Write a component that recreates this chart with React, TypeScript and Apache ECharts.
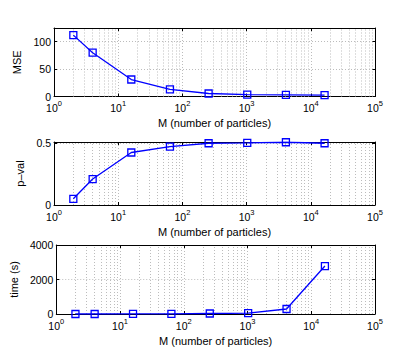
import React, { useEffect, useRef } from "react";
import * as echarts from "echarts";

const particles = [2, 4, 16, 64, 256, 1024, 4096, 16384];
const mseValues = [112, 80, 31, 13, 5.5, 3.5, 3, 2.5];
const pValues = [0.05, 0.21, 0.425, 0.473, 0.5, 0.503, 0.508, 0.5];
const timeValues = [0.2, 0.5, 2, 8, 30, 45, 290, 2780];
const minorGridX = [
  2, 3, 4, 5, 6, 7, 8, 9,
  20, 30, 40, 50, 60, 70, 80, 90,
  200, 300, 400, 500, 600, 700, 800, 900,
  2000, 3000, 4000, 5000, 6000, 7000, 8000, 9000,
  20000, 30000, 40000, 50000, 60000, 70000, 80000, 90000,
];
const xAxisTitle = "M (number of particles)";
const yTitles = ["MSE", "p\u2013val", "time (s)"];
const yMax = [125, 0.51, 4000];
const yInterval = [50, 0.5, 2000];
const yShowMax = [false, false, true];

const FONT = "'Liberation Sans', Arial, Helvetica, sans-serif";

export default function App() {
  const ref = useRef<HTMLDivElement>(null);
  useEffect(() => {
    if (!ref.current) return;
    const chart = echarts.init(ref.current, null, { renderer: "svg" });
    const grids = [
      { left: 54, right: 40, top: 28, height: 68.5 },
      { left: 54, right: 40, top: 142, height: 63 },
      { left: 54, right: 40, top: 245, height: 69 },
    ];
    const gridLine = { type: [1, 2] as any, color: "#bcbcbc", width: 1 };
    const xAxes: any[] = [];
    const yAxes: any[] = [];
    const yNameGaps = [23, 16, 28];
    grids.forEach((_, i) => {
      ["bottom", "top"].forEach((pos) => {
        const bottom = pos === "bottom";
        xAxes.push({
          type: "log",
          logBase: 10,
          min: 1,
          max: 100000,
          gridIndex: i,
          position: pos,
          axisLine: { show: true, onZero: false, lineStyle: { color: "#000", width: 1 } },
          axisTick: { show: true, inside: true, length: 3, lineStyle: { color: "#000" } },
          minorTick: { show: false },
          axisLabel: bottom
            ? {
                show: true,
                margin: 3,
                formatter: (v: number) => `{b|10}{s|${Math.round(Math.log10(v))}}`,
                rich: {
                  b: { fontSize: 10.5, fontFamily: FONT, color: "#000", lineHeight: 14, verticalAlign: "bottom" },
                  s: { fontSize: 7.5, fontFamily: FONT, color: "#000", lineHeight: 8, verticalAlign: "top" },
                },
              }
            : { show: false },
          splitLine: bottom ? { show: true, lineStyle: gridLine } : { show: false },
          name: bottom ? xAxisTitle : "",
          nameLocation: "middle",
          nameGap: 21,
          nameTextStyle: { fontSize: 11, fontFamily: FONT, color: "#000" },
        });
      });
      ["left", "right"].forEach((pos) => {
        const left = pos === "left";
        yAxes.push({
          type: "value",
          gridIndex: i,
          position: pos,
          min: 0,
          max: yMax[i],
          interval: yInterval[i],
          axisLine: { show: true, onZero: false, lineStyle: { color: "#000", width: 1 } },
          axisTick: { show: true, inside: true, length: 3, lineStyle: { color: "#000" } },
          axisLabel: left
            ? {
                show: true,
                showMaxLabel: yShowMax[i],
                margin: 3,
                fontSize: 10.5,
                fontFamily: FONT,
                color: "#000",
                formatter: (v: number) => String(v),
              }
            : { show: false },
          splitLine: left ? { show: true, lineStyle: gridLine } : { show: false },
          name: left ? yTitles[i] : "",
          nameLocation: "middle",
          nameGap: yNameGaps[i],
          nameTextStyle: { fontSize: 11, fontFamily: FONT, color: "#000" },
        });
      });
    });
    const seriesData = [mseValues, pValues, timeValues];
    const series = seriesData.map((vals, i) => ({
      type: "line",
      xAxisIndex: i * 2,
      yAxisIndex: i * 2,
      data: particles.map((m, k) => [m, vals[k]]),
      symbol: "rect",
      symbolSize: 7,
      lineStyle: { color: "#0000ff", width: 1.3 },
      itemStyle: { color: "rgba(0,0,0,0)", borderColor: "#0000ff", borderWidth: 1.3 },
      markLine: {
        silent: true,
        symbol: ["none", "none"],
        label: { show: false },
        lineStyle: gridLine,
        data: minorGridX.map((x) => ({ xAxis: x })),
        z: 1,
      },
      z: 3,
    }));
    chart.setOption({
      animation: false,
      backgroundColor: "#fff",
      grid: grids,
      xAxis: xAxes,
      yAxis: yAxes,
      series,
    });
    return () => chart.dispose();
  }, []);
  return <div ref={ref} style={{ position: "fixed", left: 0, top: 0, width: 415, height: 364 }} />;
}
